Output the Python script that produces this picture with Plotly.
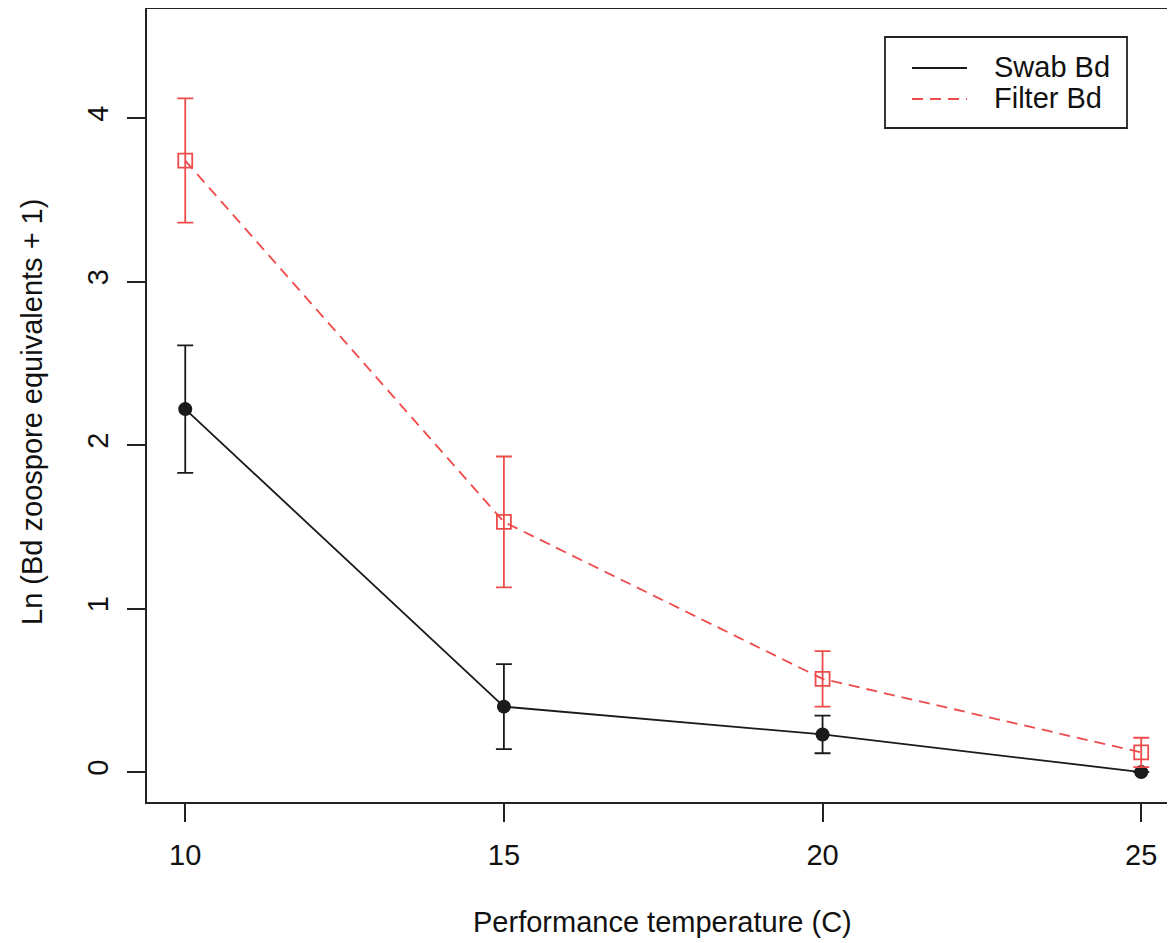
import plotly.graph_objects as go

temps = [10, 15, 20, 25]
swab_mean = [2.22, 0.40, 0.23, 0.0]
swab_se = [0.39, 0.26, 0.115, 0.0]
filter_mean = [3.74, 1.53, 0.57, 0.12]
filter_se = [0.38, 0.40, 0.17, 0.09]
x_ticks = [10, 15, 20, 25]
y_ticks = [0, 1, 2, 3, 4]
series_names = ["Swab Bd", "Filter Bd"]

RED = "#EE4B4B"
BLK = "#1a1a1a"
FONT = "Liberation Sans, Arial, Helvetica, sans-serif"
FS = 29
LW = 1.8

# page body has an 8px margin; plot area target (page px): x 147..1175, y 8..802
L, T, R, B = 147, 8, 1175, 802
PW, PH = R - L, B - T


def px(x):
    return (x - L) / PW


def py(y):
    return (B - y) / PH


fig = go.Figure()
fig.add_trace(go.Scatter(
    x=temps, y=swab_mean, mode="lines+markers", name=series_names[0], showlegend=False,
    line=dict(color=BLK, width=LW),
    marker=dict(symbol="circle", size=14, color=BLK),
    error_y=dict(type="data", array=swab_se, color=BLK, thickness=LW, width=8),
))
fig.add_trace(go.Scatter(
    x=temps, y=filter_mean, mode="lines+markers", name=series_names[1], showlegend=False,
    line=dict(color=RED, width=LW, dash="11px,7px"),
    marker=dict(symbol="square-open", size=14, color=RED, line=dict(width=LW, color=RED)),
    error_y=dict(type="data", array=filter_se, color=RED, thickness=LW, width=8),
))

fig.update_layout(
    width=1167, height=935,
    margin=dict(l=139, r=0, t=0, b=141),
    paper_bgcolor="white", plot_bgcolor="white",
    font=dict(family=FONT, size=FS, color="#111"),
    showlegend=False,
    xaxis=dict(range=[9.4, 25.53], tickvals=x_ticks, ticks="outside", ticklen=18,
               tickwidth=LW, tickcolor="#222", showline=True, linecolor="#222",
               linewidth=LW, showgrid=False, zeroline=False, ticklabelstandoff=8),
    yaxis=dict(range=[-0.183, 4.673], tickvals=y_ticks, ticks="outside", ticklen=18,
               tickwidth=LW, tickcolor="#222", showline=True, linecolor="#222",
               linewidth=LW, showgrid=False, zeroline=False, tickangle=-90,
               ticklabelstandoff=8),
)
# top border
fig.add_shape(type="line", xref="paper", yref="paper", x0=0, x1=1, y0=1, y1=1,
              line=dict(color="#222", width=LW))

# legend box (as in the R legend)
fig.add_shape(type="rect", xref="paper", yref="paper",
              x0=px(885), x1=px(1127), y0=py(128), y1=py(37),
              line=dict(color="#222", width=LW), fillcolor="white")
fig.add_shape(type="line", xref="paper", yref="paper",
              x0=px(912), x1=px(967), y0=py(68), y1=py(68),
              line=dict(color=BLK, width=LW))
fig.add_shape(type="line", xref="paper", yref="paper",
              x0=px(912), x1=px(967), y0=py(99), y1=py(99),
              line=dict(color=RED, width=LW, dash="11px,7px"))
for name, yy in zip(series_names, [67, 98]):
    fig.add_annotation(text=name, xref="paper", yref="paper", x=px(992), y=py(yy),
                       showarrow=False, xanchor="left", yanchor="middle",
                       font=dict(size=FS))

fig.add_annotation(text="Performance temperature (C)", xref="paper", yref="paper",
                   x=px(662), y=py(922), showarrow=False,
                   xanchor="center", yanchor="middle", font=dict(size=FS))
fig.add_annotation(text="Ln (Bd zoospore equivalents + 1)", xref="paper", yref="paper",
                   x=px(32), y=py(412), showarrow=False, textangle=-90,
                   xanchor="center", yanchor="middle", font=dict(size=FS))

fig.write_html("out.html")
